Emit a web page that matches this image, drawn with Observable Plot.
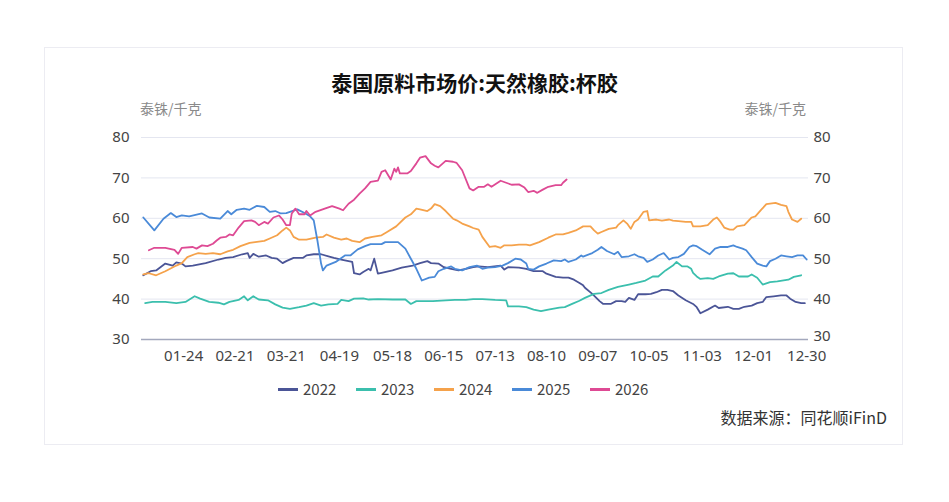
<!DOCTYPE html>
<html>
<head>
<meta charset="utf-8">
<script src="https://cdn.jsdelivr.net/npm/d3@7"></script>
<script src="https://cdn.jsdelivr.net/npm/@observablehq/plot@0.6"></script>
<style>
  html, body { margin: 0; padding: 0; background: #fff; }
  body { width: 949px; height: 502px; position: relative; overflow: hidden;
         font-family: "Noto Sans CJK SC", "Noto Sans", sans-serif; }
  #frame { position: absolute; left: 44px; top: 47px; width: 859px; height: 398px;
           border: 1px solid #ececf2; box-sizing: border-box; }
  #title { position: absolute; left: 0; top: 69px; width: 949px; text-align: center;
           font-size: 21px; font-weight: bold; color: #111; line-height: 26px; }
  .unit { position: absolute; top: 99px; font-size: 14px; color: #8a8a8a; line-height: 18px; }
  #chart { position: absolute; left: 0; top: 100px; }
  #legend { position: absolute; left: 278px; top: 380px; display: flex; font-size: 15px;
            color: #444; line-height: 18px; }
  .item { display: flex; align-items: center; width: 78px; }
  .sw { width: 20px; height: 3px; margin-right: 5px; }
  #caption { position: absolute; right: 62px; top: 407px; font-size: 16px; color: #333; line-height: 20px; }
</style>
</head>
<body>
<div id="frame"></div>
<div id="title">泰国原料市场价:天然橡胶:杯胶</div>
<div class="unit" style="left:140px">泰铢/千克</div>
<div class="unit" style="right:143px">泰铢/千克</div>
<div id="chart"></div>
<div id="legend"></div>
<div id="caption">数据来源：同花顺iFinD</div>
<script>
// [day of year, 泰铢/千克]
const s2022 = [[2,45.9],[6,46.9],[9,47.1],[14,48.8],[18,48.3],[20,49.1],[23,48.8],[25,48.1],[29,48.3],[36,48.9],[43,49.8],[47,50.2],[51,50.4],[56,51.1],[59,51.4],[60,50.2],[62,51.2],[65,50.5],[69,50.8],[72,50.2],[75,50.0],[78,48.9],[80,49.4],[84,50.2],[89,50.2],[91,50.8],[95,51.1],[99,51.1],[103,50.6],[106,50.2],[110,49.8],[114,49.4],[116,49.2],[117,46.4],[120,46.1],[122,46.7],[125,47.5],[126,47.1],[128,50.0],[130,46.3],[132,46.5],[138,47.1],[143,47.8],[149,48.3],[153,48.9],[157,49.4],[159,48.9],[163,48.8],[166,47.9],[170,47.5],[174,47.1],[178,47.5],[182,47.9],[185,48.1],[190,47.9],[197,48.3],[199,47.3],[201,47.9],[207,47.8],[211,47.5],[215,46.9],[220,46.9],[222,46.3],[227,45.5],[231,45.3],[234,45.3],[237,44.8],[240,44.0],[242,43.4],[243,42.8],[247,41.3],[251,39.5],[253,38.8],[257,38.8],[260,39.5],[263,39.5],[265,39.3],[267,40.3],[270,39.8],[272,41.2],[276,41.2],[279,41.3],[282,41.7],[285,42.3],[288,42.3],[291,42.0],[294,40.9],[298,39.7],[302,38.8],[304,38.0],[306,36.5],[310,37.4],[314,38.4],[316,37.8],[321,38.1],[324,37.6],[327,37.6],[330,38.1],[334,38.4],[337,39.0],[340,39.3],[342,40.5],[346,40.7],[350,40.9],[353,40.9],[355,40.1],[358,39.3],[361,39.0],[363,39.0]];
const s2023 = [[3,39.0],[7,39.3],[14,39.3],[20,39.0],[25,39.3],[30,40.7],[33,40.1],[38,39.3],[43,39.1],[46,38.7],[49,39.3],[54,39.8],[57,40.7],[59,39.7],[62,40.7],[65,39.9],[70,39.7],[74,38.7],[78,37.9],[82,37.6],[87,38.0],[91,38.4],[95,39.0],[99,38.4],[103,38.7],[108,38.8],[110,39.8],[114,39.5],[117,40.1],[122,40.2],[125,39.9],[130,40.0],[138,39.9],[145,39.9],[148,38.8],[151,39.5],[160,39.5],[167,39.7],[172,39.8],[178,39.8],[182,40.0],[187,40.0],[194,39.8],[200,39.7],[201,38.2],[207,38.2],[211,38.0],[215,37.4],[219,37.0],[223,37.4],[229,37.9],[232,38.0],[236,38.8],[240,39.6],[243,40.3],[248,41.3],[252,41.5],[256,42.3],[261,43.0],[267,43.6],[271,44.0],[276,44.6],[280,45.6],[283,45.6],[287,47.1],[291,48.3],[293,49.2],[296,48.1],[299,48.1],[301,47.5],[302,46.5],[304,45.6],[306,45.0],[310,45.2],[313,45.0],[316,45.6],[321,46.3],[324,46.4],[327,45.6],[332,45.6],[334,46.1],[337,45.3],[340,43.6],[344,44.2],[348,44.4],[354,44.8],[357,45.5],[361,45.9]];
const s2024 = [[2,46.1],[5,46.4],[9,45.9],[14,46.9],[20,48.3],[23,48.9],[26,50.4],[30,51.1],[32,51.4],[36,51.2],[40,51.4],[44,51.1],[48,51.8],[51,52.2],[55,53.1],[60,53.9],[63,54.1],[68,54.4],[71,55.0],[75,55.8],[78,57.0],[80,57.7],[82,57.0],[84,55.4],[87,54.7],[91,54.7],[96,55.2],[100,55.4],[102,56.0],[106,55.2],[110,54.7],[113,55.0],[116,54.4],[120,54.1],[123,55.0],[127,55.4],[132,55.8],[135,56.6],[140,58.0],[145,60.2],[148,61.0],[151,62.4],[153,62.2],[157,61.8],[159,62.4],[161,63.5],[164,63.0],[167,61.8],[171,59.9],[173,59.5],[176,58.7],[180,58.0],[182,57.6],[185,57.2],[187,55.4],[191,52.9],[194,53.1],[197,52.7],[199,53.3],[203,53.3],[207,53.5],[211,53.5],[213,53.3],[218,54.1],[223,55.2],[227,56.0],[231,56.0],[234,56.4],[238,57.0],[242,58.0],[246,58.0],[248,57.0],[250,56.2],[252,56.6],[256,57.4],[260,57.7],[261,58.3],[264,59.5],[266,58.7],[268,57.4],[270,59.1],[272,59.7],[275,61.6],[277,61.8],[278,59.5],[282,59.7],[285,59.4],[289,59.7],[291,59.4],[294,59.3],[298,59.1],[301,59.1],[302,58.0],[306,58.0],[310,58.3],[313,59.7],[315,60.2],[317,59.1],[319,57.7],[322,57.2],[324,57.2],[326,58.0],[330,58.3],[334,60.2],[336,60.5],[339,62.0],[342,63.5],[347,63.8],[350,63.3],[353,63.0],[354,61.6],[356,59.7],[359,59.1],[361,59.9]];
const s2025 = [[2,60.2],[8,57.0],[13,59.9],[17,61.3],[20,60.3],[23,60.7],[27,60.5],[34,61.2],[38,60.2],[44,59.9],[48,61.8],[50,61.0],[53,62.1],[57,62.4],[60,62.1],[64,63.1],[68,62.8],[71,61.6],[74,61.8],[77,61.2],[80,61.3],[86,62.2],[90,61.3],[93,60.5],[95,59.5],[97,54.5],[99,48.8],[100,47.1],[102,48.3],[107,49.2],[112,50.8],[115,50.8],[119,52.3],[123,53.1],[126,53.6],[132,53.6],[134,54.1],[141,54.1],[145,52.5],[148,50.0],[151,47.5],[154,44.6],[158,45.3],[161,45.5],[163,46.9],[166,47.5],[170,48.1],[172,47.5],[176,47.1],[180,47.9],[182,48.1],[184,48.3],[187,47.5],[190,47.8],[194,47.9],[198,48.3],[201,48.9],[205,50.0],[208,49.8],[211,48.8],[212,47.5],[215,47.3],[218,48.1],[222,48.8],[226,49.6],[230,49.4],[232,49.8],[234,49.2],[238,49.8],[241,50.8],[242,50.5],[247,51.4],[250,52.2],[252,52.9],[255,51.9],[259,51.1],[261,51.7],[263,50.4],[267,50.6],[270,51.1],[272,50.6],[275,50.2],[277,49.2],[280,49.8],[283,50.8],[286,51.4],[289,49.8],[291,50.2],[294,50.4],[297,51.2],[300,52.9],[302,53.3],[304,53.1],[307,52.2],[311,51.1],[314,52.5],[317,52.9],[321,52.9],[324,53.3],[326,52.9],[329,52.5],[331,52.1],[334,50.4],[337,48.8],[340,48.3],[342,48.1],[344,49.4],[347,50.0],[350,50.8],[353,50.6],[356,50.4],[359,50.8],[362,50.8],[364,49.8]];
const s2026 = [[5,52.1],[8,52.7],[14,52.7],[19,52.2],[21,51.2],[23,52.7],[29,52.9],[31,52.5],[34,53.3],[37,53.1],[40,53.7],[42,54.5],[44,55.2],[47,55.4],[49,56.0],[51,55.8],[54,57.7],[57,59.3],[61,59.5],[63,59.1],[65,58.3],[68,59.1],[70,58.7],[73,60.2],[76,60.7],[78,59.7],[80,58.3],[82,58.3],[83,61.2],[85,62.4],[87,61.0],[90,61.0],[91,61.8],[93,60.7],[96,61.6],[101,62.4],[105,63.0],[109,62.4],[111,62.0],[114,63.6],[117,64.6],[120,66.1],[123,67.4],[126,69.0],[130,69.3],[132,71.5],[134,71.9],[137,69.6],[139,72.3],[140,71.5],[141,72.6],[142,71.1],[146,71.1],[148,71.7],[151,73.6],[153,75.0],[156,75.4],[159,73.6],[161,73.0],[163,72.6],[167,74.2],[171,74.0],[173,73.7],[176,71.9],[180,67.4],[182,66.9],[185,67.8],[188,67.8],[190,68.4],[192,67.8],[197,69.3],[200,68.8],[203,68.3],[207,68.4],[210,67.6],[212,66.5],[215,66.8],[217,66.3],[220,67.1],[223,67.8],[227,68.2],[230,68.2],[231,68.8],[233,69.6]];

const years = ["2022", "2023", "2024", "2025", "2026"];
const colors = ["#4b5597", "#3bbfad", "#f5a24b", "#4a8ad8", "#de4a94"];
const xTickLabels = ["01-24","02-21","03-21","04-19","05-18","06-15","07-13","08-10","09-07","10-05","11-03","12-01","12-30"];
const yTicks = [30, 40, 50, 60, 70, 80];

const seriesList = [s2022, s2023, s2024, s2025, s2026];
const toDate = d => new Date(Date.UTC(2021, 0, d));
const rows = seriesList.flatMap((s, i) => s.map(([d, v]) => ({ date: toDate(d), value: v, year: years[i] })));
const tickDates = xTickLabels.map(s => new Date(`2021-${s}T00:00:00Z`));

const chart = Plot.plot({
  width: 949,
  height: 269,
  marginLeft: 141,
  marginRight: 141,
  marginTop: 37,
  marginBottom: 30,
  x: { type: "utc", domain: [toDate(1), toDate(365)] },
  y: { domain: [30, 80] },
  color: { domain: years, range: colors },
  style: { fontFamily: '"Noto Sans", sans-serif', fontSize: "15px", color: "#444", background: "transparent", overflow: "visible" },
  marks: [
    Plot.gridY(yTicks, { stroke: "#e4e6f0", strokeOpacity: 1 }),
    Plot.ruleY([30], { stroke: "#a3a8bd", strokeWidth: 1.5 }),
    Plot.axisY(yTicks, { anchor: "left", tickSize: 0, tickPadding: 12, label: null }),
    Plot.axisY(yTicks.slice(1), { anchor: "right", tickSize: 0, tickPadding: 5, label: null }),
    Plot.axisY(yTicks.slice(0, 1), { anchor: "right", tickSize: 0, tickPadding: 5, dy: -3, label: null }),
    Plot.axisX(tickDates, { tickSize: 0, tickPadding: 11, tickFormat: d3.utcFormat("%m-%d"), label: null }),
    Plot.line(rows, { x: "date", y: "value", z: "year", stroke: "year", strokeWidth: 1.8 })
  ]
});
document.getElementById("chart").appendChild(chart);

const legend = document.getElementById("legend");
years.forEach((y, i) => {
  const item = document.createElement("div");
  item.className = "item";
  item.innerHTML = `<span class="sw" style="background:${colors[i]}"></span><span>${y}</span>`;
  legend.appendChild(item);
});
</script>
</body>
</html>
